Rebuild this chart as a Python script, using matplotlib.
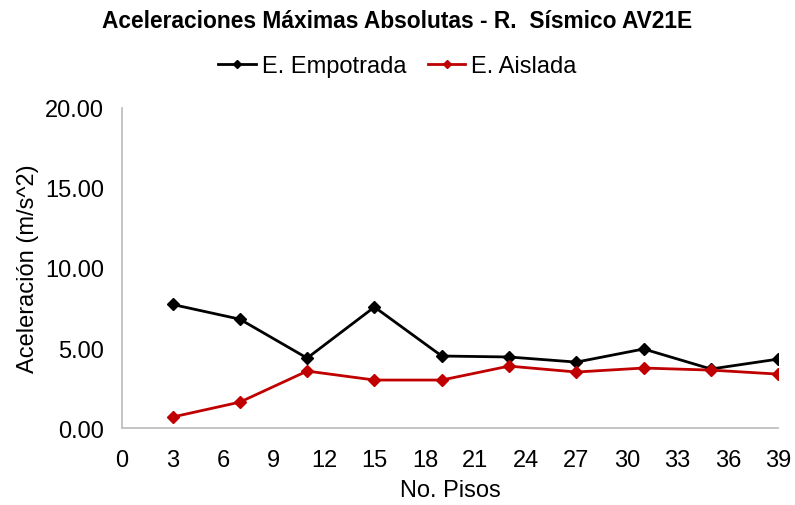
import matplotlib.pyplot as plt

# Data
pisos = [3, 7, 11, 15, 19, 23, 27, 31, 35, 39]
empotrada = [7.72, 6.80, 4.37, 7.56, 4.50, 4.44, 4.12, 4.94, 3.69, 4.31]
aislada = [0.69, 1.62, 3.56, 3.00, 3.00, 3.87, 3.50, 3.75, 3.62, 3.37]
xticks = list(range(0, 40, 3))
yticks = [0, 5, 10, 15, 20]

plt.rcParams['font.family'] = ['Liberation Sans', 'DejaVu Sans']

fig = plt.figure(figsize=(7.95, 5.06), dpi=100)
ax = fig.add_axes([0.1535, 0.152, 0.8255, 0.633])

ax.plot(pisos, empotrada, color='black', marker='D', markersize=6, linewidth=2, label='E. Empotrada')
ax.plot(pisos, aislada, color='#c00000', marker='D', markersize=6, linewidth=2, label='E. Aislada')

ax.set_xlim(0, 39)
ax.set_ylim(0, 20)
ax.set_xticks(xticks)
ax.set_yticks(yticks)
ax.set_yticklabels([f'{v:.2f}' for v in yticks])
ax.tick_params(length=0, labelsize=17)
ax.tick_params(axis='x', pad=15)
ax.tick_params(axis='y', pad=13)

for s in ['top', 'right']:
    ax.spines[s].set_visible(False)
for s in ['left', 'bottom']:
    ax.spines[s].set_color('#bfbfbf')
    ax.spines[s].set_linewidth(1.3)

ax.set_xlabel('No. Pisos', fontsize=17, labelpad=6)
ax.set_ylabel('Aceleración (m/s^2)', fontsize=17, labelpad=4)

fig.suptitle('Aceleraciones Máximas Absolutas - R.  Sísmico AV21E', x=0.5, y=0.98,
             fontsize=16.4, fontweight='bold')
fig.legend(loc='center', bbox_to_anchor=(0.5, 0.868), ncol=2, frameon=False,
           fontsize=17, handlelength=1.6, markerscale=0.7, columnspacing=0.9, handletextpad=0.25)

fig.savefig('out.png', dpi=100)
